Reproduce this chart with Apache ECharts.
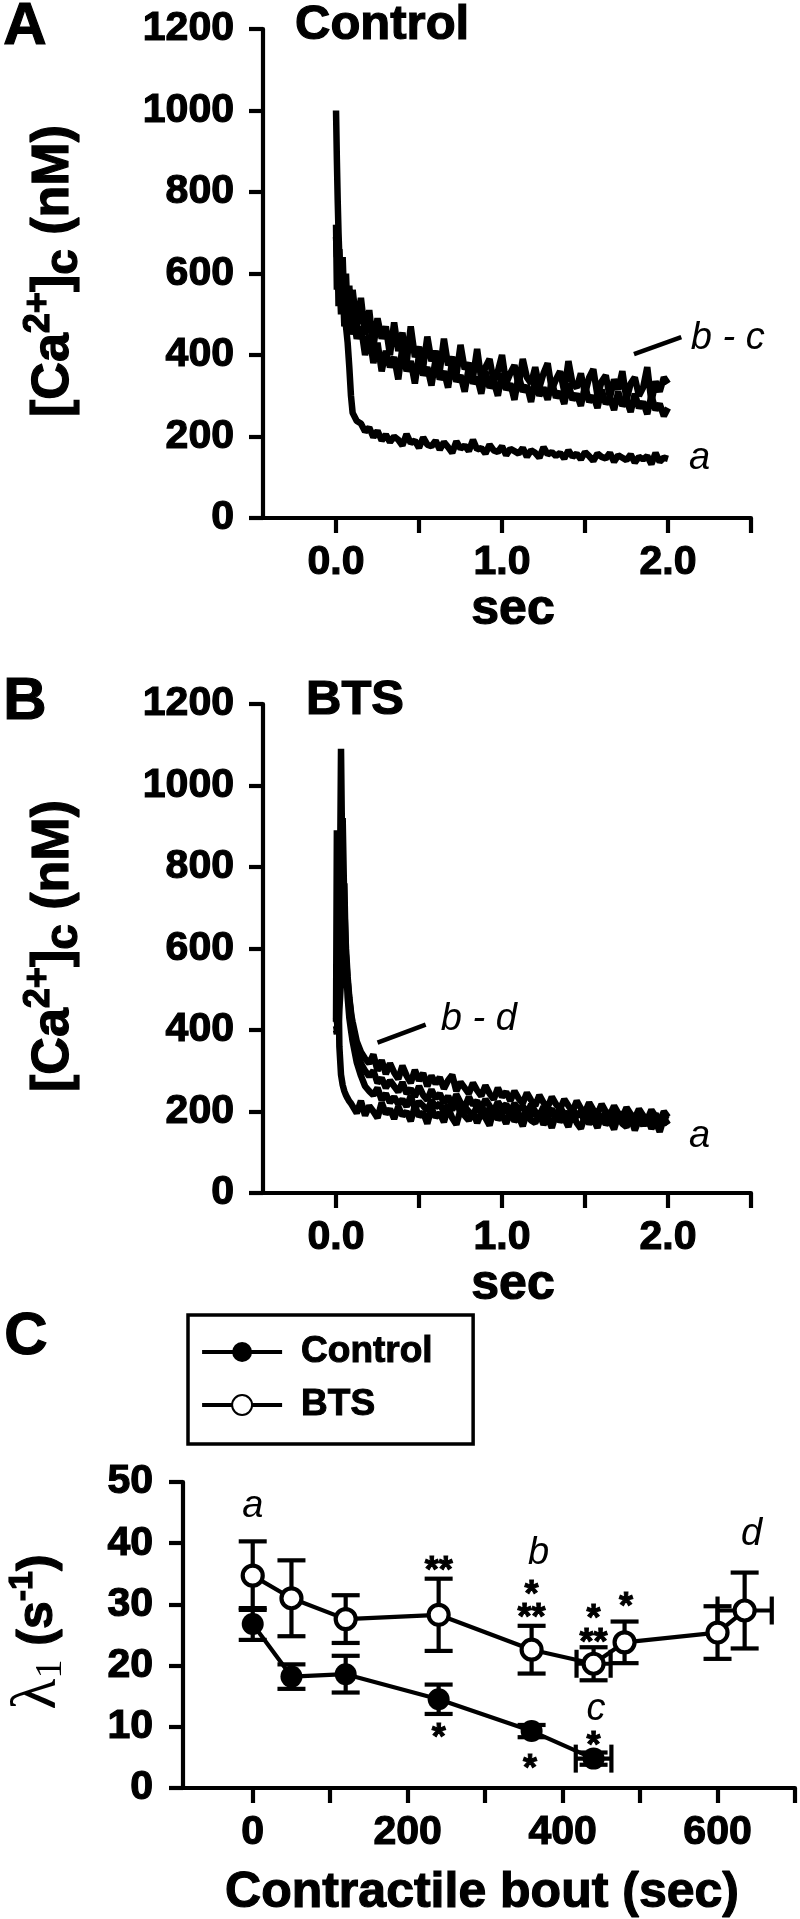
<!DOCTYPE html>
<html><head><meta charset="utf-8">
<script src="https://cdn.jsdelivr.net/npm/echarts@6/dist/echarts.min.js"></script>
<style>html,body{margin:0;padding:0;background:#fff}#c{width:800px;height:1919px}</style>
</head><body><div id="c"></div>
<script>
// ---------- Panels A & B : [Ca2+]c traces (sec, nM) ----------
const tGrid = [0,0.005,0.01,0.015,0.02,0.03,0.04,0.05,0.06,0.07,0.08,0.09,
 0.1,0.125,0.15,0.175,0.2,0.225,0.25,0.275,0.3,0.325,
 0.35,0.375,0.4,0.425,0.45,0.475,0.5,0.525,0.55,0.575,
 0.6,0.625,0.65,0.675,0.7,0.725,0.75,0.775,0.8,0.825,
 0.85,0.875,0.9,0.925,0.95,0.975,1.0,1.025,1.05,1.075,
 1.1,1.125,1.15,1.175,1.2,1.225,1.25,1.275,1.3,1.325,
 1.35,1.375,1.4,1.425,1.45,1.475,1.5,1.525,1.55,1.575,
 1.6,1.625,1.65,1.675,1.7,1.725,1.75,1.775,1.8,1.825,
 1.85,1.875,1.9,1.925,1.95,1.975,2.0];

const traceA_a = [1000,880,780,700,640,570,530,500,470,430,370,300,
 258,238,232,212,222,198,214,190,205,186,
 200,192,178,206,184,190,172,198,180,176,
 190,168,186,174,160,188,170,178,164,192,
 168,172,158,180,166,162,176,154,170,164,
 158,172,150,166,160,148,174,156,162,152,
 160,146,166,150,158,144,162,152,140,158,
 150,146,160,138,154,148,142,156,136,150,
 144,152,132,160,138,148,145];
const traceA_b = [690,640,700,600,660,560,640,520,600,490,570,480,
 560,470,540,450,510,420,490,440,470,400,
 480,410,455,380,470,395,420,370,445,385,
 410,360,440,375,395,350,425,365,380,345,
 415,340,370,390,335,360,400,330,355,375,
 325,390,345,330,370,320,355,380,315,340,
 360,310,385,330,320,355,305,345,365,300,
 335,350,295,340,315,360,290,330,345,300,
 320,370,285,335,310,345,330];
const traceA_c = [720,560,650,520,600,500,580,470,540,460,510,450,
 500,440,470,400,450,380,430,360,410,370,
 395,340,420,360,385,330,400,350,370,325,
 390,340,360,320,385,335,350,310,370,330,
 345,305,360,320,335,300,355,315,330,290,
 350,310,325,285,340,300,320,290,335,295,
 310,280,330,290,305,275,325,285,300,270,
 315,280,295,265,310,275,290,260,305,270,
 285,255,300,265,280,250,270];

const traceB_a = [420,890,700,520,360,290,265,250,240,232,225,220,
 218,196,226,190,214,200,184,222,194,206,
 182,212,190,200,176,214,188,198,170,208,
 186,196,174,210,184,168,204,190,178,200,
 172,196,184,166,206,180,192,170,200,176,
 188,164,198,178,172,196,168,186,160,194,
 176,184,162,198,172,158,190,170,182,160,
 192,168,178,156,190,170,162,186,154,180,
 166,188,158,176,150,184,168];
const traceB_b = [410,400,425,450,560,1090,720,640,580,520,475,440,
 420,372,346,330,318,340,300,326,292,318,
 296,280,312,288,270,302,276,294,262,288,
 268,284,256,276,290,250,272,258,244,270,
 252,238,264,244,230,258,236,248,226,250,
 232,220,246,228,214,240,222,210,236,218,
 206,230,214,200,226,208,198,222,204,194,
 218,200,192,214,196,186,210,194,184,206,
 190,180,204,188,176,200,186];
const traceB_c = [430,420,410,440,480,620,920,700,600,530,480,445,
 392,350,318,300,286,300,270,282,258,276,
 262,248,272,244,256,236,262,240,228,254,
 232,244,220,238,214,242,222,210,236,216,
 226,206,230,214,200,224,208,218,198,220,
 204,214,194,218,200,190,212,196,206,186,
 210,194,184,206,190,200,180,204,188,196,
 178,200,186,194,174,198,182,190,172,196,
 180,188,170,194,176,186,180];
const traceB_d = [400,390,420,410,450,520,650,760,560,480,430,400,
 372,320,288,262,250,240,258,228,244,222,
 236,218,230,212,238,206,224,214,202,228,
 210,220,198,216,204,226,196,212,200,190,
 214,196,206,188,210,198,192,216,186,204,
 194,184,208,190,200,180,198,186,204,178,
 194,182,200,176,190,196,174,188,180,198,
 172,190,184,170,194,178,186,168,190,176,
 184,166,192,174,180,170,178];

const traceTickVals = [0,0.5,1,1.5,2,2.5];
const traceLabelVals = [0,1,2];

// ---------- Panel C : lambda1 vs contractile bout ----------
const ctrlX    = [0, 50, 120, 240, 360, 440];
const ctrlY    = [26.8, 18.2, 18.6, 14.5, 9.3, 4.8];
const ctrlYErr = [2.6, 2.0, 3.0, 2.4, 1.0, 1.0];
const ctrlXErr = [0, 0, 0, 0, 0, 23];

const btsX    = [0, 50, 120, 240, 360, 440, 480, 600, 635];
const btsY    = [34.7, 31.0, 27.6, 28.3, 22.6, 20.3, 23.8, 25.4, 29.0];
const btsYErr = [5.6, 6.2, 3.9, 5.9, 3.9, 2.7, 3.4, 4.3, 6.2];
const btsXErr = [0, 0, 0, 0, 0, 22, 0, 0, 35];

const boutTickVals = [0,100,200,300,400,500,600,700];
const boutLabelVals = [0,200,400,600];

// annotations (data coordinates)
const notesA = [{x:2.36, y:441, t:'b - c', it:true}, {x:2.19, y:147, t:'a', it:true}];
const pointerA = [[1.795, 402], [2.08, 444]];
const notesB = [{x:0.86, y:425, t:'b - d', it:true}, {x:2.19, y:138, t:'a', it:true}];
const pointerB = [[0.25, 369], [0.54, 413]];
const notesC = [
  {x:0, y:46, t:'a', it:true},
  {x:240, y:36.8, t:'**'}, {x:240, y:9.4, t:'*'},
  {x:369, y:38.4, t:'b', it:true}, {x:360, y:32.8, t:'*'}, {x:360, y:29.1, t:'**'},
  {x:358, y:4.4, t:'*'},
  {x:440, y:28.9, t:'*'}, {x:440, y:25.0, t:'**'},
  {x:482, y:30.9, t:'*'},
  {x:644, y:41.4, t:'d', it:true},
  {x:443, y:12.9, t:'c', it:true}, {x:440, y:8.2, t:'*'}
];

// ---------- chart ----------
const SANS = '"Liberation Sans", Arial, Helvetica, sans-serif';
const SERIF = '"Liberation Serif", "Times New Roman", serif';
const BLACK = '#000';
const LW = 4.2;
const TB = 1.2; // text outline to get the heavy look of the original

function pairs(ts, vs) { return vs.map((v, i) => [ts[i], v]); }
const heavy = {color: BLACK, fontWeight: 'bold', fontFamily: SANS, textBorderColor: BLACK, textBorderWidth: TB};

function xTrace(gi) {
  return {
    gridIndex: gi, type: 'value', min: -0.44, max: 2.5, position: 'bottom',
    axisLine: {show: true, onZero: false, lineStyle: {color: BLACK, width: LW}},
    axisTick: {show: true, length: 15, lineStyle: {color: BLACK, width: LW}, customValues: traceTickVals},
    axisLabel: Object.assign({show: true, margin: 24, fontSize: 41,
      customValues: traceLabelVals, formatter: v => Number(v).toFixed(1)}, heavy),
    splitLine: {show: false},
    name: 'sec', nameLocation: 'middle', nameGap: 64,
    nameTextStyle: Object.assign({fontSize: 50, padding: [0, 0, 0, 12]}, heavy)
  };
}
function yTrace(gi) {
  return {
    gridIndex: gi, type: 'value', min: 0, max: 1200, interval: 200,
    axisLine: {show: true, onZero: false, lineStyle: {color: BLACK, width: LW}},
    axisTick: {show: true, length: 14, lineStyle: {color: BLACK, width: LW}},
    axisLabel: Object.assign({show: true, margin: 29, fontSize: 41, formatter: v => String(v)}, heavy),
    splitLine: {show: false}
  };
}
function traceSeries(gi, arr) {
  return {type: 'line', xAxisIndex: gi, yAxisIndex: gi, data: pairs(tGrid, arr),
    showSymbol: false, symbol: 'none', silent: true, z: 3,
    lineStyle: {color: BLACK, width: 6.5}};
}
function pointerSeries(gi, pts) {
  return {type: 'line', xAxisIndex: gi, yAxisIndex: gi, data: pts, symbol: 'none', silent: true,
    lineStyle: {color: BLACK, width: 4.5}, z: 4};
}
function notesSeries(gi, notes) {
  return {
    type: 'custom', xAxisIndex: gi, yAxisIndex: gi, silent: true, z: 10, clip: false,
    data: notes.map(n => [n.x, n.y]),
    renderItem: (params, api) => {
      const n = notes[params.dataIndex];
      const p = api.coord([n.x, n.y]);
      const star = n.t.indexOf('*') >= 0;
      return {type: 'text', x: p[0], y: p[1] + (star ? 9 : 0),
        style: {text: n.t, fill: BLACK, align: 'center', verticalAlign: 'middle',
          stroke: star ? BLACK : null, lineWidth: star ? 1 : 0,
          font: n.it ? ('italic 38px ' + SANS) : ('bold 36px ' + SANS)}};
    }
  };
}
function errRender(params, api) {
  const x = api.value(0), y = api.value(1), e = api.value(2), ex = api.value(3);
  const c = api.coord([x, y]);
  const t = api.coord([x, y + e]);
  const b = api.coord([x, y - e]);
  const cap = 14;
  const st = {stroke: BLACK, lineWidth: LW, fill: null};
  const ch = [
    {type: 'line', shape: {x1: c[0], y1: t[1], x2: c[0], y2: b[1]}, style: st},
    {type: 'line', shape: {x1: c[0] - cap, y1: t[1], x2: c[0] + cap, y2: t[1]}, style: st},
    {type: 'line', shape: {x1: c[0] - cap, y1: b[1], x2: c[0] + cap, y2: b[1]}, style: st}
  ];
  if (ex > 0) {
    const l = api.coord([x - ex, y]), r = api.coord([x + ex, y]);
    ch.push({type: 'line', shape: {x1: l[0], y1: c[1], x2: r[0], y2: c[1]}, style: st});
    ch.push({type: 'line', shape: {x1: l[0], y1: c[1] - cap, x2: l[0], y2: c[1] + cap}, style: st});
    ch.push({type: 'line', shape: {x1: r[0], y1: c[1] - cap, x2: r[0], y2: c[1] + cap}, style: st});
  }
  return {type: 'group', children: ch};
}

const chart = echarts.init(document.getElementById('c'), null, {renderer: 'canvas', width: 800, height: 1919});

const caRich = {
  m: {fontSize: 52, fontWeight: 'bold', fontFamily: SANS, fill: BLACK, lineHeight: 66, stroke: BLACK, lineWidth: TB},
  sup: {fontSize: 36, fontWeight: 'bold', fontFamily: SANS, fill: BLACK, verticalAlign: 'top', stroke: BLACK, lineWidth: TB},
  sub: {fontSize: 46, fontWeight: 'bold', fontFamily: SANS, fill: BLACK, verticalAlign: 'bottom', stroke: BLACK, lineWidth: TB}
};
const bigText = (x, y, t, size, align) => ({type: 'text', x, y,
  style: {text: t, fill: BLACK, stroke: BLACK, lineWidth: TB, font: 'bold ' + size + 'px ' + SANS, align, verticalAlign: 'middle'}});

const option = {
  backgroundColor: '#fff',
  animation: false,
  grid: [
    {left: 263, top: 29, width: 488, height: 489, containLabel: false, outerBoundsMode: 'none'},
    {left: 263, top: 704, width: 488, height: 489, containLabel: false, outerBoundsMode: 'none'},
    {left: 183, top: 1482, width: 612, height: 306, containLabel: false, outerBoundsMode: 'none'}
  ],
  xAxis: [
    xTrace(0), xTrace(1),
    {
      gridIndex: 2, type: 'value', min: -90, max: 700, position: 'bottom',
      axisLine: {show: true, onZero: false, lineStyle: {color: BLACK, width: LW}},
      axisTick: {show: true, length: 15, lineStyle: {color: BLACK, width: LW}, customValues: boutTickVals},
      axisLabel: Object.assign({show: true, margin: 24, fontSize: 41, customValues: boutLabelVals, formatter: v => String(v)}, heavy),
      splitLine: {show: false},
      name: 'Contractile bout (sec)', nameLocation: 'middle', nameGap: 80,
      nameTextStyle: Object.assign({fontSize: 50, padding: [0, 14, 0, 0]}, heavy)
    }
  ],
  yAxis: [
    yTrace(0), yTrace(1),
    {
      gridIndex: 2, type: 'value', min: 0, max: 50, interval: 10,
      axisLine: {show: true, onZero: false, lineStyle: {color: BLACK, width: LW}},
      axisTick: {show: true, length: 14, lineStyle: {color: BLACK, width: LW}},
      axisLabel: Object.assign({show: true, margin: 30, fontSize: 41}, heavy),
      splitLine: {show: false}
    }
  ],
  legend: {
    data: ['Control', 'BTS'], orient: 'vertical', left: 188, top: 1315,
    borderColor: BLACK, borderWidth: 3.5, padding: [18, 40, 20, 12],
    itemWidth: 80, itemHeight: 25, itemGap: 15, selectedMode: false,
    lineStyle: {width: LW, color: BLACK},
    textStyle: {color: BLACK, fontSize: 37, fontWeight: 'bold', fontFamily: SANS, padding: [0, 0, 0, 14],
      textBorderColor: BLACK, textBorderWidth: 1}
  },
  graphic: [
    bigText(25, 27, 'A', 60, 'center'),
    bigText(25, 702, 'B', 60, 'center'),
    bigText(26, 1337, 'C', 60, 'center'),
    bigText(295, 25, 'Control', 49, 'left'),
    bigText(306, 700, 'BTS', 49, 'left'),
    {type: 'text', x: 54, y: 271, rotation: Math.PI / 2,
      style: {text: '{m|[Ca}{sup|2+}{m|]}{sub|c}{m| (nM)}', align: 'center', verticalAlign: 'middle', rich: caRich}},
    {type: 'text', x: 54, y: 946, rotation: Math.PI / 2,
      style: {text: '{m|[Ca}{sup|2+}{m|]}{sub|c}{m| (nM)}', align: 'center', verticalAlign: 'middle', rich: caRich}},
    {type: 'text', x: 38, y: 1632, rotation: Math.PI / 2,
      style: {text: '{l|λ}{s|1}{m| (s}{sup|-1}{m|)}', align: 'center', verticalAlign: 'middle',
        rich: {
          l: {fontSize: 64, fontFamily: SERIF, fill: BLACK},
          s: {fontSize: 38, fontFamily: SERIF, fill: BLACK, verticalAlign: 'bottom'},
          m: {fontSize: 50, fontWeight: 'bold', fontFamily: SANS, fill: BLACK, lineHeight: 64, stroke: BLACK, lineWidth: TB},
          sup: {fontSize: 34, fontWeight: 'bold', fontFamily: SANS, fill: BLACK, verticalAlign: 'top', stroke: BLACK, lineWidth: TB}
        }}}
  ],
  series: [
    traceSeries(0, traceA_a), traceSeries(0, traceA_b), traceSeries(0, traceA_c),
    pointerSeries(0, pointerA), notesSeries(0, notesA),
    traceSeries(1, traceB_a), traceSeries(1, traceB_b), traceSeries(1, traceB_c), traceSeries(1, traceB_d),
    pointerSeries(1, pointerB), notesSeries(1, notesB),
    {type: 'custom', xAxisIndex: 2, yAxisIndex: 2, silent: true, z: 2, renderItem: errRender,
      data: ctrlX.map((x, i) => [x, ctrlY[i], ctrlYErr[i], ctrlXErr[i]])},
    {type: 'custom', xAxisIndex: 2, yAxisIndex: 2, silent: true, z: 2, renderItem: errRender,
      data: btsX.map((x, i) => [x, btsY[i], btsYErr[i], btsXErr[i]])},
    {name: 'Control', type: 'line', xAxisIndex: 2, yAxisIndex: 2, z: 5,
      data: pairs(ctrlX, ctrlY), symbol: 'circle', symbolSize: 22, showSymbol: true,
      lineStyle: {color: BLACK, width: LW}, itemStyle: {color: BLACK, borderColor: BLACK, borderWidth: 0}},
    {name: 'BTS', type: 'line', xAxisIndex: 2, yAxisIndex: 2, z: 5,
      data: pairs(btsX, btsY), symbol: 'circle', symbolSize: 20, showSymbol: true,
      lineStyle: {color: BLACK, width: LW}, itemStyle: {color: '#fff', borderColor: BLACK, borderWidth: LW}},
    notesSeries(2, notesC)
  ]
};
chart.setOption(option);
</script>
</body></html>
